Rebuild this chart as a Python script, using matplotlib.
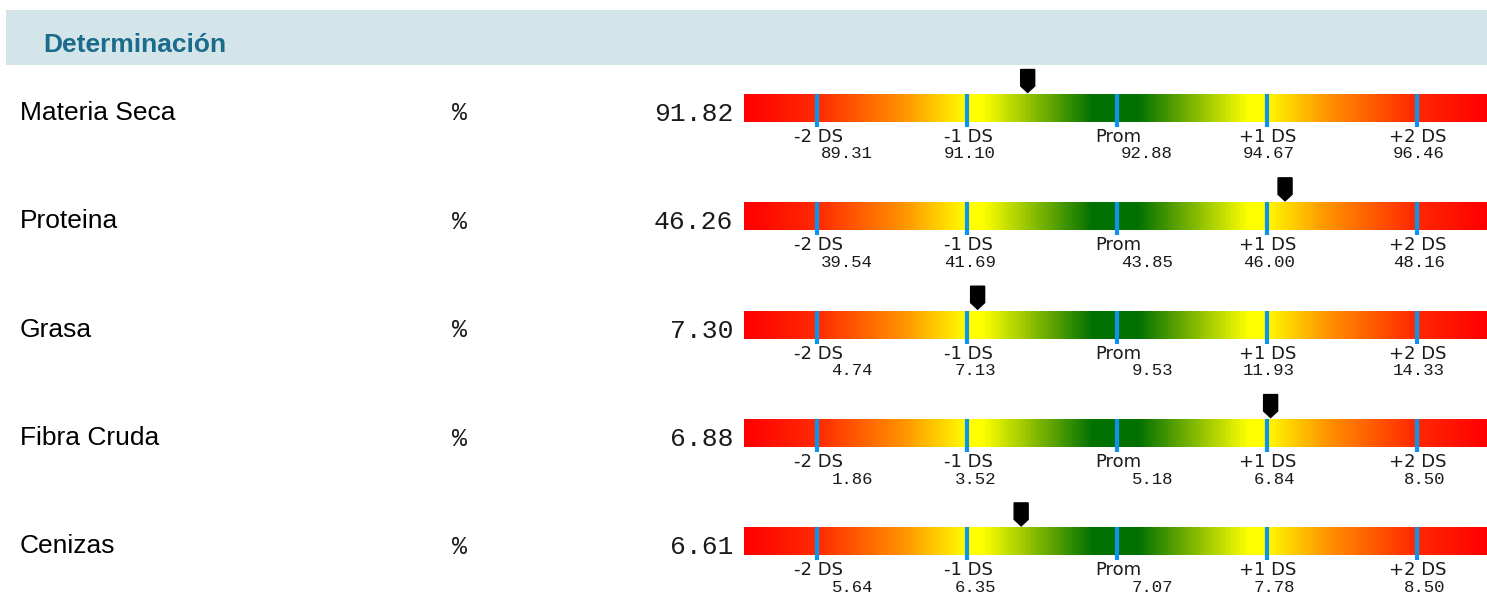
import numpy as np
import matplotlib.pyplot as plt
from matplotlib.colors import LinearSegmentedColormap
from matplotlib.patches import Rectangle, Polygon

# datos
nombres = ['Materia Seca', 'Proteina', 'Grasa', 'Fibra Cruda', 'Cenizas']
unidades = ['%', '%', '%', '%', '%']
valores = [91.82, 46.26, 7.30, 6.88, 6.61]
ds_1 = [89.31, 91.10, 92.88, 94.67, 96.46]
ds_2 = [39.54, 41.69, 43.85, 46.00, 48.16]
ds_3 = [4.74, 7.13, 9.53, 11.93, 14.33]
ds_4 = [1.86, 3.52, 5.18, 6.84, 8.50]
ds_5 = [5.64, 6.35, 7.07, 7.78, 8.50]
limites = [ds_1, ds_2, ds_3, ds_4, ds_5]
etiquetas_ds = ['-2 DS', '-1 DS', 'Prom', '+1 DS', '+2 DS']

W, H = 1487, 594
fig = plt.figure(figsize=(W / 100, H / 100), dpi=100)
ax = fig.add_axes([0, 0, 1, 1])
ax.set_xlim(0, W)
ax.set_ylim(H, 0)
ax.axis('off')

# cabecera
ax.add_patch(Rectangle((6, 10), W - 6, 55, color='#d4e5ea', lw=0))
ax.text(43, 52, 'Determinación', fontsize=19, fontweight='bold',
        family='Liberation Sans', color='#1b6b8b', va='baseline')

cmap = LinearSegmentedColormap.from_list('semaforo', [
    (0.0, '#ff0000'), (0.1, '#ff2c00'), (0.21, '#ff9000'), (0.3, '#ffff00'),
    (0.32, '#ffff00'), (0.47, '#007000'), (0.53, '#007000'), (0.68, '#ffff00'),
    (0.7, '#ffff00'), (0.79, '#ff9000'), (0.9, '#ff2c00'), (1.0, '#ff0000')])
grad = np.linspace(0, 1, 743).reshape(1, -1)

x0, x1 = 744, W
pos_ticks = [817, 967, 1117, 1267, 1417]
off_num = [56, 29, 56, 28, 28]

for i, nombre in enumerate(nombres):
    bt = 94 + i * 108.35
    ax.text(20, bt + 26, nombre, fontsize=19, family='Liberation Sans', va='baseline')
    ax.text(452, bt + 26.5, unidades[i], fontsize=18, family='Liberation Mono',
            color='#1a1a1a', va='baseline')
    ax.text(733, bt + 27, f'{valores[i]:.2f}', fontsize=19, family='Liberation Mono',
            color='#1a1a1a', ha='right', va='baseline')
    ax.imshow(grad, cmap=cmap, aspect='auto', extent=(x0, x1, bt + 28, bt),
              interpolation='bilinear', zorder=1)
    for j, xt in enumerate(pos_ticks):
        ax.plot([xt, xt], [bt, bt + 33], color='#0c94ec', lw=3, solid_capstyle='butt', zorder=2)
        ax.text(xt + 1, bt + 48, etiquetas_ds[j], fontsize=13, family='DejaVu Sans',
                color='#1a1a1a', ha='center', va='baseline')
        ax.text(xt + off_num[j], bt + 64.5, f'{limites[i][j]:.2f}', fontsize=12.5,
                family='Liberation Mono', color='#1a1a1a', ha='right', va='baseline')
    xm = np.interp(valores[i], limites[i], pos_ticks)
    ax.add_patch(Polygon([(xm - 7, bt - 24.5), (xm + 7, bt - 24.5), (xm + 7, bt - 8),
                          (xm, bt - 1.5), (xm - 7, bt - 8)], closed=True,
                         color='black', zorder=3))

fig.savefig('out.png', dpi=100)
